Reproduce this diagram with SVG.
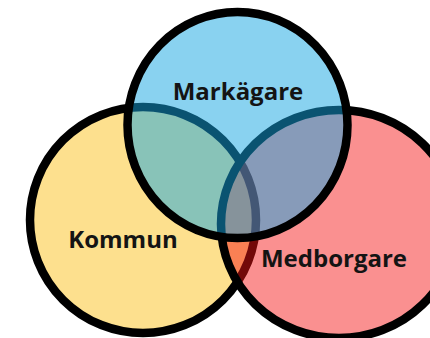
<svg xmlns="http://www.w3.org/2000/svg" width="430" height="338" viewBox="0 0 430 338">
  <style>
    .ring { stroke: #000; stroke-width: 8.5; }
    .lbl { font-family: "Open Sans", "Liberation Sans", sans-serif; font-weight: 700; font-size: 24px; fill: #141414; text-anchor: middle; }
  </style>
  <rect width="430" height="338" fill="#ffffff"/>
  <g id="kommun">
    <circle class="ring" cx="143" cy="220" r="113" fill="#fde08e"/>
    <text class="lbl" x="123" y="248">Kommun</text>
  </g>
  <g id="medborgare">
    <ellipse class="ring" cx="339" cy="224" rx="118" ry="114" fill="rgb(245,20,20)" fill-opacity="0.47"/>
    <text class="lbl" x="334" y="267">Medborgare</text>
  </g>
  <g id="markagare">
    <ellipse class="ring" cx="237.5" cy="125" rx="110" ry="113" fill="rgb(20,165,225)" fill-opacity="0.5"/>
    <text class="lbl" x="238" y="100">Markägare</text>
  </g>
</svg>
